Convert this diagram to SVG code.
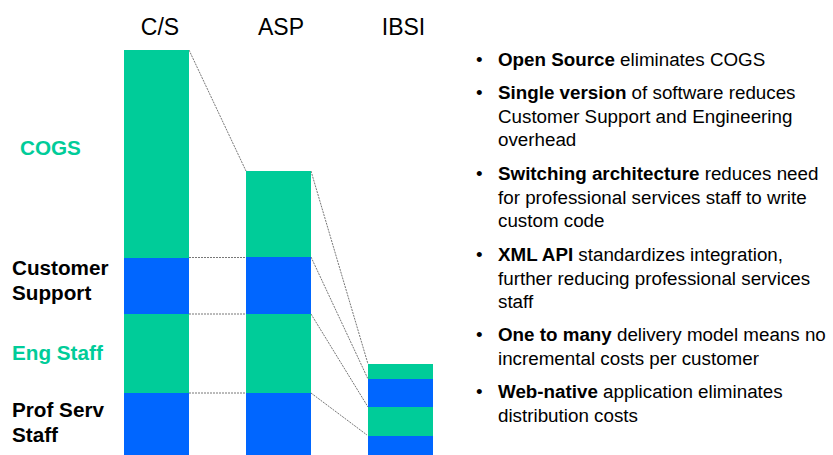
<svg xmlns="http://www.w3.org/2000/svg" width="833" height="455" viewBox="0 0 833 455">
<style>
.g{fill:#00CC99}
.b{fill:#0066FF}
.hd{font-family:"Liberation Sans",Arial,sans-serif;font-size:23px;fill:#000;text-anchor:middle}
.lb{font-family:"Liberation Sans",Arial,sans-serif;font-size:20.7px;font-weight:bold}
.bt{font-family:"Liberation Sans",Arial,sans-serif;font-size:18.8px;fill:#000}
.bt tspan.k{font-weight:bold}
.c{stroke:#777;stroke-width:1;stroke-dasharray:2 1;fill:none}
</style>
<rect width="833" height="455" fill="#fff"/>
<g id="headers">
<text class="hd" x="160" y="35">C/S</text>
<text class="hd" x="281" y="35">ASP</text>
<text class="hd" x="403.5" y="35">IBSI</text>
</g>
<g id="labels">
<text class="lb" x="20" y="155" fill="#00CC99">COGS</text>
<text class="lb" x="12" y="275" fill="#000">Customer</text>
<text class="lb" x="12" y="300" fill="#000">Support</text>
<text class="lb" x="12" y="360" fill="#00CC99">Eng Staff</text>
<text class="lb" x="12" y="417" fill="#000">Prof Serv</text>
<text class="lb" x="12" y="442" fill="#000">Staff</text>
</g>
<g id="connectors">
<line class="c" x1="189" y1="50" x2="246" y2="171"/>
<line class="c" x1="189" y1="257.5" x2="246" y2="257.5"/>
<line class="c" x1="189" y1="314" x2="246" y2="314"/>
<line class="c" x1="189" y1="393" x2="246" y2="393"/>
<line class="c" x1="311" y1="171" x2="368" y2="364"/>
<line class="c" x1="311" y1="257" x2="368" y2="379"/>
<line class="c" x1="311" y1="314" x2="368" y2="407"/>
<line class="c" x1="311" y1="393" x2="367" y2="435"/>
</g>
<g id="bar-cs">
<rect class="g" x="124" y="50" width="65" height="208"/>
<rect class="b" x="124" y="258" width="65" height="56"/>
<rect class="g" x="124" y="314" width="65" height="79"/>
<rect class="b" x="124" y="393" width="65" height="62"/>
</g>
<g id="bar-asp">
<rect class="g" x="246" y="171" width="65" height="86"/>
<rect class="b" x="246" y="257" width="65" height="57"/>
<rect class="g" x="246" y="314" width="65" height="79"/>
<rect class="b" x="246" y="393" width="65" height="62"/>
</g>
<g id="bar-ibsi">
<rect class="g" x="368" y="364" width="65" height="15"/>
<rect class="b" x="368" y="379" width="65" height="28"/>
<rect class="g" x="368" y="407" width="65" height="29"/>
<rect class="b" x="368" y="436" width="65" height="19"/>
</g>
<g id="bullets">
<text class="bt" x="476" y="66">•</text>
<text class="bt" x="498" y="66"><tspan class="k">Open Source</tspan> eliminates COGS</text>
<text class="bt" x="476" y="99">•</text>
<text class="bt" x="498" y="99"><tspan class="k">Single version</tspan> of software reduces</text>
<text class="bt" x="498" y="122.5">Customer Support and Engineering</text>
<text class="bt" x="498" y="146">overhead</text>
<text class="bt" x="476" y="180">•</text>
<text class="bt" x="498" y="180"><tspan class="k">Switching architecture</tspan> reduces need</text>
<text class="bt" x="498" y="203.5">for professional services staff to write</text>
<text class="bt" x="498" y="227">custom code</text>
<text class="bt" x="476" y="261">•</text>
<text class="bt" x="498" y="261"><tspan class="k">XML API</tspan> standardizes integration,</text>
<text class="bt" x="498" y="284.5">further reducing professional services</text>
<text class="bt" x="498" y="308">staff</text>
<text class="bt" x="476" y="341">•</text>
<text class="bt" x="498" y="341"><tspan class="k">One to many</tspan> delivery model means no</text>
<text class="bt" x="498" y="364.5">incremental costs per customer</text>
<text class="bt" x="476" y="398">•</text>
<text class="bt" x="498" y="398"><tspan class="k">Web-native</tspan> application eliminates</text>
<text class="bt" x="498" y="421.5">distribution costs</text>
</g>
</svg>
